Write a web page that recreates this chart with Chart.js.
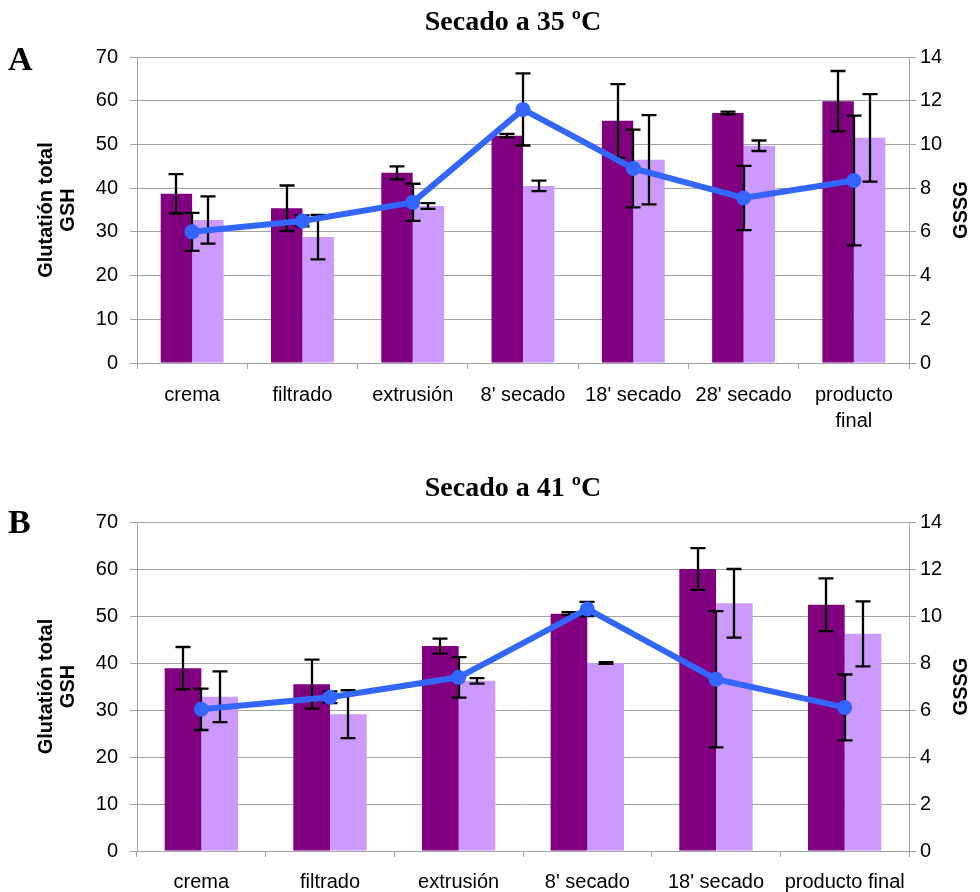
<!DOCTYPE html>
<html>
<head>
<meta charset="utf-8">
<script src="https://cdn.jsdelivr.net/npm/chart.js@4/dist/chart.umd.min.js"></script>
<style>
  html, body { margin: 0; padding: 0; background: #fff; }
  #wrap { position: relative; width: 980px; height: 892px; }
  canvas { position: absolute; left: 0; }
  #chartA { top: 0; }
  #chartB { top: 450px; }
</style>
</head>
<body>
<div id="wrap">
  <canvas id="chartA" width="980" height="450"></canvas>
  <canvas id="chartB" width="980" height="442"></canvas>
</div>
<script>
// ---- Panel A: drying at 35 ºC ----
const categoriesA = ['crema', 'filtrado', 'extrusión', "8' secado", "18' secado", "28' secado", ['producto', 'final']];
const totalA      = [38.7, 35.4, 43.5, 52.0, 55.4, 57.2, 59.9];
const totalErrA   = [4.5, 5.2, 1.5, 0.4, 8.4, 0.3, 6.9];
const gshA        = [32.7, 28.8, 35.9, 40.5, 46.5, 49.7, 51.5];
const gshErrA     = [5.4, 5.1, 0.65, 1.2, 10.2, 1.2, 10.0];
const gssgA       = [6.0, 6.5, 7.35, 11.6, 8.9, 7.55, 8.35];
const gssgErrA    = [0.87, 0.25, 0.85, 1.65, 1.78, 1.47, 2.97];

// ---- Panel B: drying at 41 ºC ----
const categoriesB = ['crema', 'filtrado', 'extrusión', "8' secado", "18' secado", 'producto final'];
const totalB      = [38.9, 35.5, 43.6, 50.5, 60.0, 52.4];
const totalErrB   = [4.5, 5.2, 1.6, 0.3, 4.45, 5.6];
const gshB        = [32.8, 29.1, 36.2, 40.0, 52.7, 46.2];
const gshErrB     = [5.4, 5.1, 0.6, 0.2, 7.3, 6.9];
const gssgB       = [6.03, 6.54, 7.39, 10.3, 7.31, 6.11];
const gssgErrB    = [0.88, 0.25, 0.86, 0.3, 2.9, 1.4];

// Axis ranges and tick steps
const leftAxis  = { min: 0, max: 70, step: 10 };
const rightAxis = { min: 0, max: 14, step: 2 };
const rightTitle = 'GSSG';

const SANS = '"Liberation Sans", Arial, Helvetica, sans-serif';
const SERIF = '"Liberation Serif", "Times New Roman", Times, serif';
const GRID = '#a3a3a3';

// Vertical error bars (value ± error) for every dataset carrying an `errors` array.
// Drawn just before the line so the line and its markers sit on top.
const errorBars = {
  id: 'errorBars',
  beforeDatasetDraw(chart, args) {
    if (chart.data.datasets[args.index].type !== 'line') return;
    const ctx = chart.ctx;
    ctx.save();
    ctx.strokeStyle = '#000';
    ctx.lineWidth = 2.3;
    chart.data.datasets.forEach((ds, di) => {
      if (!ds.errors) return;
      const meta = chart.getDatasetMeta(di);
      const scale = chart.scales[meta.yAxisID];
      meta.data.forEach((el, i) => {
        const v = ds.data[i], e = ds.errors[i];
        const x = Math.round(el.x);
        const yt = scale.getPixelForValue(v + e);
        const yb = scale.getPixelForValue(v - e);
        const cap = 7.5;
        ctx.beginPath();
        ctx.moveTo(x, yt); ctx.lineTo(x, yb);
        ctx.moveTo(x - cap, yt); ctx.lineTo(x + cap, yt);
        ctx.moveTo(x - cap, yb); ctx.lineTo(x + cap, yb);
        ctx.stroke();
      });
    });
    ctx.restore();
  }
};

// Panel heading, panel letter and the right-hand axis title (reading upwards)
const panelTitle = {
  id: 'panelTitle',
  afterDraw(chart, args, opts) {
    const ctx = chart.ctx;
    const area = chart.chartArea;
    ctx.save();
    ctx.fillStyle = '#000';
    ctx.textBaseline = 'middle';
    ctx.textAlign = 'center';
    ctx.font = 'bold 28px ' + SERIF;
    ctx.fillText(opts.text, opts.x, opts.y);
    ctx.textAlign = 'left';
    ctx.font = 'bold 34px ' + SERIF;
    ctx.fillText(opts.letter, opts.letterX, opts.letterY);

    ctx.translate(opts.rightTitleX, (area.top + area.bottom) / 2);
    ctx.rotate(-Math.PI / 2);
    ctx.textAlign = 'center';
    ctx.font = 'bold 20px ' + SANS;
    ctx.fillText(rightTitle, 0, 0);
    ctx.restore();
  }
};

function makeChart(id, cats, total, totalErr, gsh, gshErr, gssg, gssgErr, layout) {
  return new Chart(document.getElementById(id), {
    type: 'bar',
    data: {
      labels: cats,
      datasets: [
        {
          label: 'Glutatión total',
          data: total,
          errors: totalErr,
          backgroundColor: '#800080',
          yAxisID: 'y',
          order: 1,
          categoryPercentage: 0.57,
          barPercentage: 1.0
        },
        {
          label: 'GSH',
          data: gsh,
          errors: gshErr,
          backgroundColor: '#cc99ff',
          yAxisID: 'y',
          order: 1,
          categoryPercentage: 0.57,
          barPercentage: 1.0
        },
        {
          type: 'line',
          label: 'GSSG',
          data: gssg,
          errors: gssgErr,
          borderColor: '#3366ff',
          backgroundColor: '#3366ff',
          borderWidth: 6,
          pointRadius: 7.5,
          pointHoverRadius: 7.5,
          pointBorderWidth: 0,
          tension: 0,
          yAxisID: 'y2',
          order: 0
        }
      ]
    },
    options: {
      responsive: false,
      animation: false,
      events: [],
      layout: { padding: { top: layout.top, left: 0, right: 0, bottom: 0 } },
      plugins: {
        legend: { display: false },
        tooltip: { enabled: false },
        panelTitle: layout.title
      },
      scales: {
        x: {
          offset: true,
          grid: {
            offset: true,
            drawOnChartArea: false,
            drawTicks: true,
            tickLength: 6,
            color: GRID
          },
          border: { display: true, color: GRID, width: 1 },
          ticks: {
            color: '#000',
            autoSkip: false,
            maxRotation: 0,
            minRotation: 0,
            padding: layout.xPad,
            font: { family: SANS, size: 20, lineHeight: 1.3 }
          },
          afterFit(scale) { scale.height = layout.xHeight; }
        },
        y: {
          position: 'left',
          min: leftAxis.min,
          max: leftAxis.max,
          ticks: {
            stepSize: leftAxis.step,
            color: '#000',
            padding: 12,
            font: { family: SANS, size: 20 }
          },
          grid: { color: GRID, lineWidth: 1, tickLength: 7, drawTicks: true },
          border: { display: true, color: GRID, width: 1 },
          title: {
            display: true,
            text: ['Glutatión total', 'GSH'],
            color: '#000',
            padding: { top: 35, bottom: 0 },
            font: { family: SANS, size: 20, weight: 'bold', lineHeight: 1.1 }
          },
          afterFit(scale) { scale.width = 137; }
        },
        y2: {
          position: 'right',
          min: rightAxis.min,
          max: rightAxis.max,
          ticks: {
            stepSize: rightAxis.step,
            color: '#000',
            padding: 4,
            font: { family: SANS, size: 20 }
          },
          grid: { drawOnChartArea: false, color: GRID, tickLength: 7, drawTicks: true },
          border: { display: true, color: GRID, width: 1 },
          title: { display: false },
          afterFit(scale) { scale.width = 71; }
        }
      }
    },
    plugins: [errorBars, panelTitle]
  });
}

makeChart('chartA', categoriesA, totalA, totalErrA, gshA, gshErrA, gssgA, gssgErrA, {
  top: 57, xHeight: 87, xPad: 13,
  title: { text: 'Secado a 35 ºC', x: 513, y: 23, letter: 'A', letterX: 8, letterY: 61, rightTitleX: 961 }
});

makeChart('chartB', categoriesB, totalB, totalErrB, gshB, gshErrB, gssgB, gssgErrB, {
  top: 72, xHeight: 41, xPad: 12,
  title: { text: 'Secado a 41 ºC', x: 513, y: 39, letter: 'B', letterX: 8, letterY: 74, rightTitleX: 961 }
});
</script>
</body>
</html>
